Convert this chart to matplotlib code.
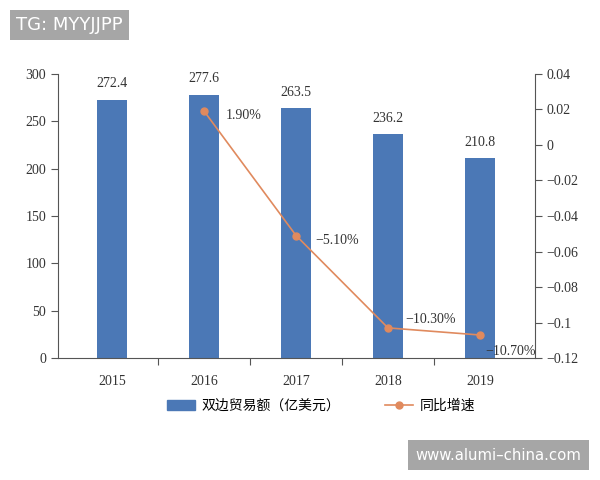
import matplotlib
matplotlib.use("Agg")
import matplotlib.pyplot as plt
from matplotlib.patches import Patch
from matplotlib.lines import Line2D

plt.rcParams['font.family'] = ['Liberation Serif', 'Noto Sans CJK SC']

years = ['2015', '2016', '2017', '2018', '2019']
trade = [272.4, 277.6, 263.5, 236.2, 210.8]
growth_years = [1, 2, 3, 4]
growth = [0.019, -0.051, -0.103, -0.107]
growth_labels = ['1.90%', '\u22125.10%', '\u221210.30%', '\u221210.70%']
label_offsets = [(22, -4), (19, -5), (17, 8), (5, -17)]

bar_color = '#4b78b6'
line_color = '#e08a5e'
text_color = '#333333'

fig = plt.figure(figsize=(6, 4.8), dpi=100)
ax = fig.add_axes([0.0967, 0.254, 0.795, 0.592])
x = list(range(len(years)))
ax.bar(x, trade, width=0.33, color=bar_color, zorder=2)
ax.set_xlim(-0.59, 4.6)
ax.set_ylim(0, 300)
ax.set_yticks(range(0, 301, 50))
ax.set_xticks(x)
ax.set_xticklabels(years)
ax.set_xticks([0.5, 1.5, 2.5, 3.5], minor=True)
for v, xx in zip(trade, x):
    ax.annotate(f'{v}', (xx, v), xytext=(0, 7), textcoords='offset points',
                ha='center', va='bottom', fontsize=10, color=text_color)

ax2 = ax.twinx()
ax2.set_ylim(-0.12, 0.04)
ax2.set_yticks([0.04, 0.02, 0, -0.02, -0.04, -0.06, -0.08, -0.1, -0.12])
ax2.set_yticklabels(['0.04', '0.02', '0', '\u22120.02', '\u22120.04', '\u22120.06',
                     '\u22120.08', '\u22120.1', '\u22120.12'])
ax2.plot(growth_years, growth, color=line_color, lw=1.2, marker='o', ms=5, zorder=3)
for xx, g, lab, (dx, dy) in zip(growth_years, growth, growth_labels, label_offsets):
    ax2.annotate(lab, (xx, g), xytext=(dx * 0.72, dy * 0.72), textcoords='offset points',
                 ha='left', va='center', fontsize=10, color=text_color)

for a in (ax, ax2):
    a.spines['top'].set_visible(False)
    for s in a.spines.values():
        s.set_color('#555555')
        s.set_linewidth(0.8)
    a.tick_params(colors='#555555', labelcolor=text_color, labelsize=10, length=5, width=0.8)
ax.spines['right'].set_visible(False)
ax2.spines['left'].set_visible(False)
ax2.spines['bottom'].set_visible(False)
ax.tick_params(axis='x', which='major', length=0, pad=12)
ax.tick_params(axis='x', which='minor', length=5, width=0.8, color='#555555')

handles = [Patch(color=bar_color), Line2D([0], [0], color=line_color, marker='o', ms=5, lw=1.2)]
fig.legend(handles, ['双边贸易额（亿美元）', '同比增速'], loc='center', bbox_to_anchor=(0.535, 0.155),
           ncol=2, frameon=False, columnspacing=3.2, handlelength=2, handletextpad=0.5,
           prop={'family': ['Noto Sans CJK SC'], 'size': 10})

fig.text(0.027, 0.948, 'TG: MYYJJPP', fontsize=13, color='white', family='DejaVu Sans',
         va='center', ha='left', bbox=dict(boxstyle='square,pad=0.35', fc='#a6a6a6', ec='none'))
fig.text(0.693, 0.052, 'www.alumi\u2013china.com', fontsize=10.7, color='white', family='DejaVu Sans',
         va='center', ha='left', bbox=dict(boxstyle='square,pad=0.5', fc='#a6a6a6', ec='none'))

fig.savefig('out.png', dpi=100)
